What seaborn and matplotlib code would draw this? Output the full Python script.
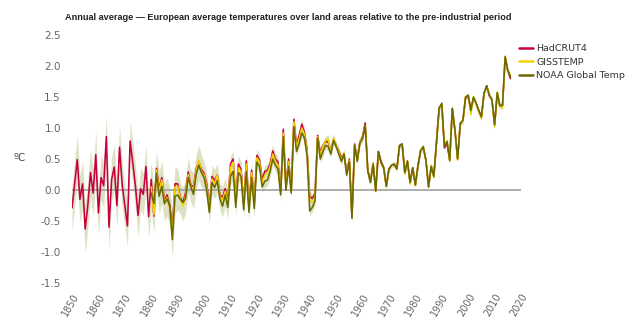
import numpy as np
import pandas as pd
import matplotlib
matplotlib.use("Agg")
import matplotlib.pyplot as plt
from matplotlib.lines import Line2D
import seaborn as sns

sns.set_style("white")
plt.rcParams['font.family'] = ['DejaVu Sans']

# ---- data ----
had_years = list(range(1850, 2017))
hadcrut4 = [
    -0.29, 0.10, 0.49, -0.15, 0.10, -0.63, -0.24, 0.28, -0.05, 0.57,   # 1850s
    -0.37, 0.20, 0.07, 0.86, -0.60, 0.17, 0.37, -0.25, 0.69, 0.08,    # 1860s
    -0.25, -0.58, 0.79, 0.44, 0.07, -0.41, 0.02, -0.07, 0.38, -0.43,  # 1870s
    0.17, -0.42, 0.35, 0.02, 0.20, -0.18, -0.08, -0.24, -0.62, 0.10,  # 1880s
    0.10, -0.12, -0.20, -0.05, 0.29, 0.08, 0.05, 0.33, 0.46, 0.33,    # 1890s
    0.27, 0.10, -0.28, 0.22, 0.15, 0.24, -0.08, -0.12, 0.02, -0.18,   # 1900s
    0.42, 0.50, -0.15, 0.42, 0.33, -0.22, 0.47, -0.28, 0.32, -0.20,   # 1910s
    0.56, 0.48, 0.16, 0.30, 0.32, 0.42, 0.63, 0.50, 0.45, -0.03,      # 1920s
    0.98, 0.08, 0.50, 0.00, 1.14, 0.72, 0.88, 1.06, 0.93, 0.65,       # 1930s
    -0.10, -0.14, -0.05, 0.88, 0.60, 0.72, 0.78, 0.78, 0.62, 0.82,    # 1940s
    0.72, 0.63, 0.52, 0.58, 0.28, 0.50, -0.42, 0.74, 0.50, 0.78,      # 1950s
    0.86, 1.08, 0.32, 0.14, 0.42, 0.00, 0.62, 0.46, 0.36, 0.06,       # 1960s
    0.34, 0.40, 0.41, 0.34, 0.71, 0.74, 0.28, 0.46, 0.12, 0.36,       # 1970s
    0.08, 0.38, 0.64, 0.68, 0.48, 0.05, 0.38, 0.22, 0.76, 1.32,       # 1980s
    1.38, 0.68, 0.76, 0.48, 1.31, 0.96, 0.50, 1.06, 1.12, 1.48,       # 1990s
    1.52, 1.30, 1.48, 1.40, 1.28, 1.18, 1.56, 1.68, 1.52, 1.45,       # 2000s
    1.06, 1.56, 1.35, 1.36, 2.14, 1.92, 1.80,                         # 2010s
]

other_years = list(range(1880, 2017))
gisstemp = [
    0.05, -0.40, 0.32, -0.02, 0.16, -0.20, -0.12, -0.28, -0.72, 0.05,
    0.06, -0.14, -0.26, -0.10, 0.25, 0.06, 0.02, 0.30, 0.48, 0.30,
    0.24, 0.06, -0.32, 0.18, 0.10, 0.24, -0.10, -0.16, -0.02, -0.22,
    0.36, 0.45, -0.18, 0.36, 0.30, -0.25, 0.42, -0.30, 0.28, -0.22,
    0.52, 0.45, 0.12, 0.24, 0.28, 0.38, 0.58, 0.46, 0.40, -0.05,
    0.92, 0.06, 0.46, -0.02, 1.10, 0.70, 0.82, 1.00, 0.90, 0.62,
    -0.15, -0.20, -0.10, 0.86, 0.56, 0.70, 0.80, 0.82, 0.60, 0.84,
    0.72, 0.62, 0.48, 0.60, 0.25, 0.48, -0.43, 0.72, 0.48, 0.78,
    0.84, 1.04, 0.30, 0.12, 0.44, -0.02, 0.60, 0.44, 0.34, 0.05,
    0.33, 0.40, 0.42, 0.33, 0.72, 0.73, 0.26, 0.47, 0.10, 0.35,
    0.07, 0.40, 0.63, 0.70, 0.47, 0.04, 0.40, 0.20, 0.78, 1.30,
    1.38, 0.72, 0.80, 0.46, 1.30, 0.95, 0.48, 1.08, 1.10, 1.50,
    1.53, 1.22, 1.50, 1.38, 1.26, 1.15, 1.55, 1.66, 1.54, 1.44,
    1.02, 1.58, 1.34, 1.33, 2.16, 1.90, 1.85,
]
noaa = [
    -0.05, -0.22, 0.27, -0.10, 0.06, -0.22, -0.14, -0.26, -0.80, -0.10,
    -0.08, -0.15, -0.20, -0.14, 0.20, 0.05, -0.07, 0.25, 0.40, 0.28,
    0.20, 0.00, -0.36, 0.12, 0.04, 0.15, -0.14, -0.26, -0.08, -0.28,
    0.22, 0.30, -0.28, 0.28, 0.22, -0.32, 0.30, -0.36, 0.20, -0.30,
    0.45, 0.38, 0.05, 0.14, 0.16, 0.30, 0.50, 0.40, 0.34, -0.08,
    0.86, 0.00, 0.38, -0.05, 1.02, 0.62, 0.75, 0.92, 0.84, 0.55,
    -0.34, -0.28, -0.18, 0.84, 0.50, 0.62, 0.72, 0.70, 0.58, 0.80,
    0.70, 0.58, 0.46, 0.58, 0.24, 0.46, -0.46, 0.72, 0.46, 0.76,
    0.82, 1.04, 0.30, 0.12, 0.42, -0.02, 0.62, 0.44, 0.36, 0.06,
    0.34, 0.40, 0.42, 0.34, 0.72, 0.74, 0.28, 0.47, 0.12, 0.36,
    0.08, 0.40, 0.64, 0.70, 0.48, 0.05, 0.38, 0.22, 0.78, 1.32,
    1.40, 0.70, 0.78, 0.48, 1.32, 0.96, 0.50, 1.08, 1.12, 1.50,
    1.53, 1.28, 1.50, 1.40, 1.28, 1.18, 1.56, 1.68, 1.53, 1.46,
    1.05, 1.57, 1.36, 1.37, 2.15, 1.93, 1.83,
]

# uncertainty half-width of the shaded band, per decade (1850s ... 2010s)
band_decades = list(range(1850, 2020, 10))
band_halfwidth = [0.38, 0.36, 0.34, 0.28, 0.24, 0.18, 0.13, 0.10, 0.08,
                  0.07, 0.06, 0.05, 0.04, 0.04, 0.035, 0.035, 0.035]

series_names = ["HadCRUT4", "GISSTEMP", "NOAA Global Temp"]
colors = {"HadCRUT4": "#c8003c", "GISSTEMP": "#f2d500", "NOAA Global Temp": "#6b6a00"}

x_ticks = list(range(1850, 2021, 10))
y_ticks = [-1.5, -1.0, -0.5, 0.0, 0.5, 1.0, 1.5, 2.0, 2.5]

# ---- build tables ----
df = pd.concat([
    pd.DataFrame({"year": had_years, "value": hadcrut4, "series": "HadCRUT4"}),
    pd.DataFrame({"year": other_years, "value": gisstemp, "series": "GISSTEMP"}),
    pd.DataFrame({"year": other_years, "value": noaa, "series": "NOAA Global Temp"}),
], ignore_index=True)

wide = df.pivot(index="year", columns="series", values="value")
hw = np.array([band_halfwidth[(y - 1850) // 10] for y in wide.index])
band_lo = wide.min(axis=1).values - hw
band_hi = wide.max(axis=1).values + hw

# ---- figure ----
fig = plt.figure(figsize=(6.4, 3.34), dpi=100)
ax = fig.add_axes([72 / 640, 51 / 334, (521 - 72) / 640, (283 - 35) / 334])

ax.fill_between(wide.index, band_lo, band_hi, color="#d8ddbb", alpha=0.85,
                linewidth=0, zorder=1)
ax.axhline(0, color="#a0a0a0", lw=1.2, zorder=2)

sns.lineplot(data=df, x="year", y="value", hue="series", hue_order=series_names,
             palette=colors, linewidth=1.15, ax=ax, zorder=3, legend=False)

ax.set_xlim(1850, 2020)
ax.set_ylim(-1.5, 2.5)
ax.set_xticks(x_ticks)
ax.set_xticklabels([str(t) for t in x_ticks], rotation=60, ha="right",
                   rotation_mode="anchor", fontsize=7, color="#666666")
ax.set_yticks(y_ticks)
ax.set_yticklabels([f"{t:.1f}" for t in y_ticks], fontsize=7.5, color="#666666")
ax.tick_params(axis="both", length=0)
ax.tick_params(axis="y", pad=8)
ax.tick_params(axis="x", pad=6)
ax.set_xlabel("")
ax.set_ylabel("")
for s in ax.spines.values():
    s.set_visible(False)

fig.text(20 / 640, 1 - 158 / 334, "ºC", fontsize=7.5, color="#444444",
         ha="center", va="center")
fig.text(288 / 640, 1 - 18 / 334,
         "Annual average — European average temperatures over land areas relative to the pre-industrial period",
         fontsize=6.6, fontweight="bold", color="#222222", ha="center", va="center",
         family=["Liberation Sans", "DejaVu Sans"])

handles = [Line2D([], [], color=colors[n], lw=1.8) for n in series_names]
fig.legend(handles, series_names, loc="upper left",
           bbox_to_anchor=(519 / 640, 1 - 44 / 334), frameon=False,
           fontsize=6.8, handlelength=1.5, handletextpad=0.35, labelspacing=0.5,
           labelcolor="#333333", borderaxespad=0, borderpad=0)

fig.savefig("out.png", dpi=100, facecolor="white")
